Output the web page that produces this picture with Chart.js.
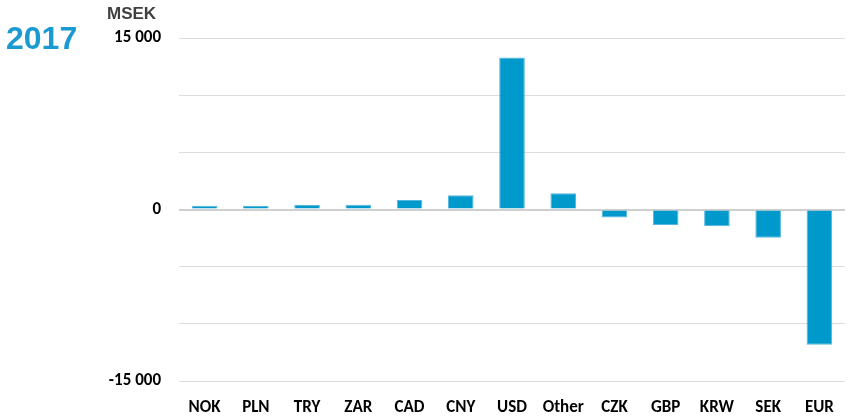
<!DOCTYPE html>
<html>
<head>
<meta charset="utf-8">
<script src="https://cdn.jsdelivr.net/npm/chart.js@4/dist/chart.umd.min.js"></script>
<style>
  body { margin: 0; background: #fff; }
  #wrap { position: relative; width: 852px; height: 416px; }
  #year { position: absolute; left: 6px; top: 20px; font: bold 32px "Liberation Sans", Arial, sans-serif; color: #1a9ad0; }
  #unit { position: absolute; left: 107px; top: 4px; font: bold 17px "Liberation Sans", Arial, sans-serif; color: #404040; }
</style>
</head>
<body>
<div id="wrap">
  <canvas id="chart" width="852" height="416"></canvas>
  <div id="year">2017</div>
  <div id="unit">MSEK</div>
</div>
<script>
const currencies = ['NOK', 'PLN', 'TRY', 'ZAR', 'CAD', 'CNY', 'USD', 'Other', 'CZK', 'GBP', 'KRW', 'SEK', 'EUR']
const exposure = [330, 300, 390, 420, 830, 1250, 13300, 1420, -690, -1360, -1470, -2470, -11820]
const labelledTicks = [15000, 0, -15000]

function formatTick(v) {
    let s = Math.abs(v).toString().replace(/\B(?=(\d{3})+(?!\d))/g, ' ')
    return v < 0 ? '-' + s : s
}

const labelFont = { family: 'Calibri, Carlito, Lato, sans-serif', size: 17, weight: 900 }

new Chart(document.getElementById('chart'), {
    type: 'bar',
    data: {
        labels: currencies,
        datasets: [{
            data: exposure,
            backgroundColor: '#0099cc',
            borderColor: '#55b6de',
            borderWidth: 1,
            barPercentage: 0.5,
            categoryPercentage: 1
        }]
    },
    options: {
        responsive: false,
        animation: false,
        layout: { padding: { top: 38, right: 7, bottom: 0, left: 0 } },
        plugins: { legend: { display: false }, tooltip: { enabled: false } },
        scales: {
            x: {
                grid: { display: false },
                border: { display: false },
                ticks: { color: '#000', font: labelFont, padding: 9 },
                afterFit: scale => { scale.height = 35 }
            },
            y: {
                min: -15000,
                max: 15000,
                grid: {
                    color: ctx => ctx.tick && ctx.tick.value === 0 ? '#cfcfcf' : '#dcdcdc',
                    lineWidth: ctx => ctx.tick && ctx.tick.value === 0 ? 2 : 1,
                    drawTicks: false
                },
                border: { display: false },
                ticks: {
                    stepSize: 5000,
                    color: '#000',
                    font: labelFont,
                    padding: 18,
                    callback: v => labelledTicks.includes(v) ? formatTick(v) : ''
                },
                afterFit: scale => { scale.width = 179 }
            }
        }
    }
})
</script>
</body>
</html>
